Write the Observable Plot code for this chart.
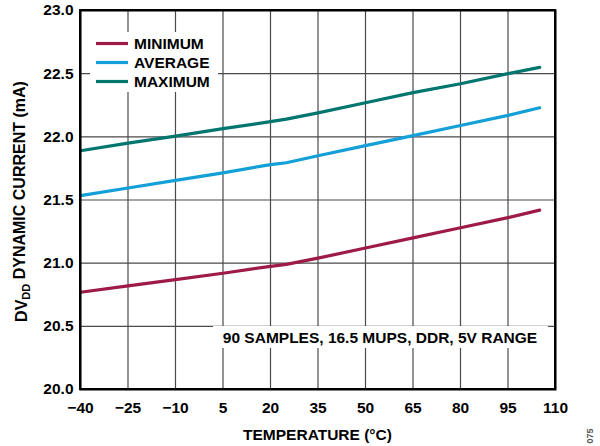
<!DOCTYPE html>
<html>
<head>
<meta charset="utf-8">
<script src="https://cdn.jsdelivr.net/npm/d3@7"></script>
<script src="https://cdn.jsdelivr.net/npm/@observablehq/plot@0.6"></script>
<style>
  html, body { margin: 0; padding: 0; background: #fff; }
  #chart { position: relative; width: 600px; height: 446px; }
</style>
</head>
<body>
<div id="chart"></div>
<script>
const temperature = [-40, -25, -10, 5, 20, 25, 35, 50, 65, 80, 95, 105];
const minimum = [20.77, 20.82, 20.87, 20.92, 20.975, 20.99, 21.04, 21.12, 21.20, 21.28, 21.36, 21.42];
const average = [21.535, 21.595, 21.655, 21.715, 21.78, 21.795, 21.85, 21.93, 22.01, 22.09, 22.17, 22.23];
const maximum = [21.89, 21.95, 22.005, 22.065, 22.12, 22.14, 22.19, 22.27, 22.35, 22.42, 22.50, 22.55];
const seriesNames = ["MINIMUM", "AVERAGE", "MAXIMUM"];
const seriesColors = ["#9e1a48", "#139fd7", "#00766f"];
const xTicks = [-40, -25, -10, 5, 20, 35, 50, 65, 80, 95, 110];
const yTicks = [20.0, 20.5, 21.0, 21.5, 22.0, 22.5, 23.0];
const annotation = "90 SAMPLES, 16.5 MUPS, DDR, 5V RANGE";

const seriesValues = [minimum, average, maximum];
const rows = [];
seriesNames.forEach((name, i) => {
  temperature.forEach((t, j) => rows.push({series: name, t, v: seriesValues[i][j]}));
});

const font = "Liberation Sans, Arial, sans-serif";
const FS = 15.5;
const W = 600, H = 446;
const mL = 80, mR = 45, mT = 10, mB = 57;

const chart = Plot.plot({
  width: W,
  height: H,
  marginLeft: mL,
  marginRight: mR,
  marginTop: mT,
  marginBottom: mB,
  style: {fontFamily: font, fontSize: FS + "px", fontWeight: "bold", color: "#000", background: "#fff"},
  x: {domain: [-40, 110], ticks: xTicks, label: null, tickSize: 0, tickPadding: 12},
  y: {domain: [20, 23], ticks: yTicks, label: null, tickSize: 0, tickPadding: 7, tickFormat: d3.format(".1f")},
  color: {domain: seriesNames, range: seriesColors},
  marks: [
    Plot.ruleX(xTicks, {stroke: "#4a4a4a", strokeWidth: 1.2}),
    Plot.ruleY(yTicks, {stroke: "#4a4a4a", strokeWidth: 1.2}),
    Plot.line(rows, {x: "t", y: "v", z: "series", stroke: "series", strokeWidth: 3.2}),
    Plot.frame({stroke: "#000", strokeWidth: 2})
  ]
});
document.getElementById("chart").appendChild(chart);

const svg = d3.select(chart);

function addText(sel, txt) {
  return sel.append("text")
    .attr("font-family", font).attr("font-size", FS).attr("font-weight", "bold").attr("fill", "#000")
    .attr("text-anchor", "start").text(txt);
}

// Legend (white box over grid)
const lg = svg.append("g");
lg.append("rect").attr("x", 90).attr("y", 32).attr("width", 128).attr("height", 60).attr("fill", "#fff");
seriesNames.forEach((name, i) => {
  const yy = 43.5 + i * 19;
  lg.append("line").attr("x1", 96).attr("x2", 128).attr("y1", yy).attr("y2", yy)
    .attr("stroke", seriesColors[i]).attr("stroke-width", 3.2);
  addText(lg, name).attr("x", 134).attr("y", yy).attr("dy", "0.36em");
});

// Annotation box
const ag = svg.append("g");
ag.append("rect").attr("x", 213).attr("y", 326).attr("width", 335).attr("height", 22).attr("fill", "#fff");
addText(ag, annotation).attr("x", 380).attr("y", 337).attr("dy", "0.36em").attr("text-anchor", "middle");

// Re-draw frame on top
svg.append("rect").attr("x", mL).attr("y", mT).attr("width", W - mL - mR).attr("height", H - mT - mB)
  .attr("fill", "none").attr("stroke", "#000").attr("stroke-width", 2);

// X axis title
addText(svg, "TEMPERATURE (°C)").attr("x", (mL + W - mR) / 2).attr("y", 434).attr("dy", "0.36em").attr("text-anchor", "middle");

// Y axis title with subscript
const yt = svg.append("text").attr("transform", `translate(21,${(mT + H - mB) / 2 + 2}) rotate(-90)`)
  .attr("text-anchor", "middle").attr("dy", "0.36em")
  .attr("font-family", font).attr("font-size", FS + 0.5).attr("font-weight", "bold").attr("fill", "#000");
yt.append("tspan").text("DV");
yt.append("tspan").attr("font-size", 11).attr("dy", "0.3em").text("DD");
yt.append("tspan").attr("dy", "-0.3em").text(" DYNAMIC CURRENT (mA)");

// Figure number
svg.append("text").attr("transform", "translate(590,436) rotate(-90)").attr("text-anchor", "middle").attr("dy", "0.36em")
  .attr("font-family", font).attr("font-size", 9).attr("fill", "#555").text("075");
</script>
</body>
</html>
